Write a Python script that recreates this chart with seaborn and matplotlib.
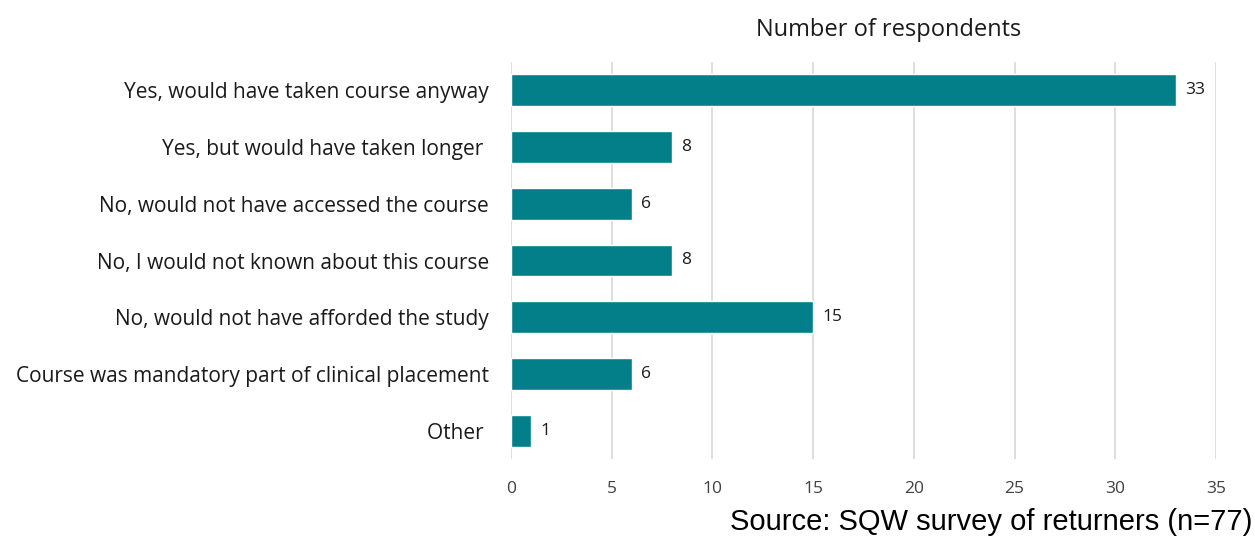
import matplotlib
matplotlib.use("Agg")
import matplotlib.pyplot as plt
import seaborn as sns
import pandas as pd

# Chart data
categories = [
    "Yes, would have taken course anyway",
    "Yes, but would have taken longer ",
    "No, would not have accessed the course",
    "No, I would not known about this course",
    "No, would not have afforded the study",
    "Course was mandatory part of clinical placement",
    "Other ",
]
respondents = [33, 8, 6, 8, 15, 6, 1]
x_ticks = [0, 5, 10, 15, 20, 25, 30, 35]

bar_colour = "#027F88"
grid_colour = "#D9D9D9"

sns.set_theme(style="white")
plt.rcParams["font.family"] = ["Open Sans", "DejaVu Sans"]

df = pd.DataFrame({"category": categories, "n": respondents})

fig = plt.figure(figsize=(12.55, 5.39), dpi=100)
ax = fig.add_axes([511 / 1255, 1 - 459 / 539, (1216 - 511) / 1255, (459 - 62) / 539])

sns.barplot(data=df, x="n", y="category", color=bar_colour, width=0.56,
            saturation=1, ax=ax, zorder=3)

ax.set_xlim(0, 35)
ax.set_xticks(x_ticks)
ax.xaxis.grid(True, color=grid_colour, linewidth=1.2, zorder=0)
ax.yaxis.grid(False)
ax.set_axisbelow(True)
for s in ax.spines.values():
    s.set_visible(False)
ax.set_xlabel("")
ax.set_ylabel("")
ax.tick_params(axis="x", length=0, pad=16, labelsize=12.5, labelcolor="#404040")
ax.tick_params(axis="y", length=0, pad=16, labelsize=15, labelcolor="#1a1a1a")

for i, v in enumerate(respondents):
    ax.text(v + 0.45, i, str(v), va="center", ha="left", fontsize=12.5, color="#1a1a1a")

fig.text(889 / 1255, 1 - 30 / 539, "Number of respondents", ha="center", va="center",
         fontsize=17, color="#1a1a1a")
fig.text(1252 / 1255, 1 - 522 / 539, "Source: SQW survey of returners (n=77)",
         ha="right", va="center", fontsize=21, family="Liberation Sans", color="black")

fig.savefig("out.png", dpi=100)
